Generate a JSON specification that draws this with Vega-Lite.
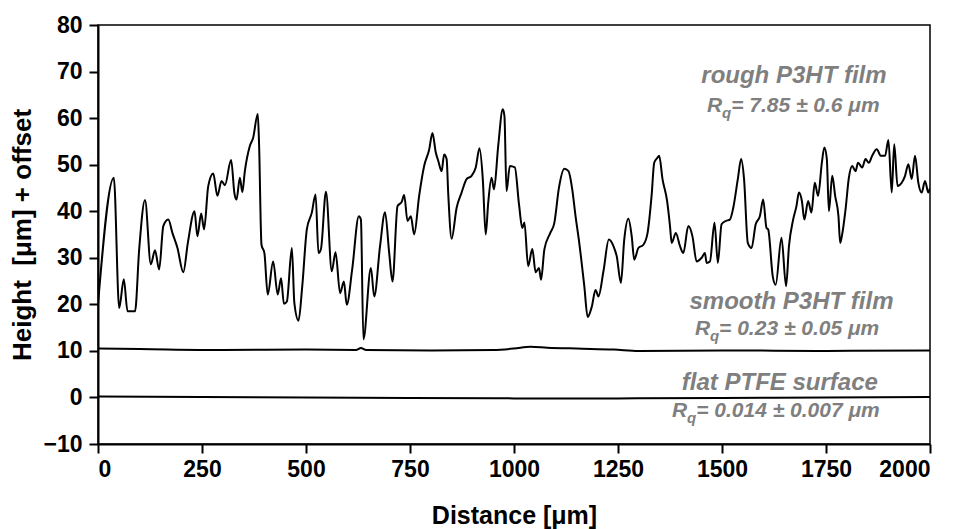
{
  "$schema": "https://vega.github.io/schema/vega-lite/v6.json",
  "width": 832,
  "height": 419,
  "autosize": {"type": "none"},
  "padding": {"left": 98, "top": 25, "right": 33, "bottom": 85},
  "background": "white",
  "config": {
    "view": {"stroke": "black", "strokeWidth": 1.5},
    "font": "Liberation Sans",
    "axis": {
      "grid": false,
      "domainColor": "black",
      "domainWidth": 2,
      "tickColor": "black",
      "tickWidth": 2,
      "tickSize": 9,
      "labelFont": "Liberation Sans",
      "labelFontWeight": "bold",
      "labelFontSize": 23,
      "labelColor": "black",
      "titleFont": "Liberation Sans",
      "titleFontWeight": "bold",
      "titleFontSize": 25,
      "titleColor": "black"
    }
  },
  "datasets": {
    "profiles": [
      {"series": "rough", "d": 0, "h": 20},
      {"series": "rough", "d": 38, "h": 47.2},
      {"series": "rough", "d": 51, "h": 19.2},
      {"series": "rough", "d": 62, "h": 25.4},
      {"series": "rough", "d": 71, "h": 18.5},
      {"series": "rough", "d": 89, "h": 18.5},
      {"series": "rough", "d": 99, "h": 31.8},
      {"series": "rough", "d": 113, "h": 42.4},
      {"series": "rough", "d": 127, "h": 28.6},
      {"series": "rough", "d": 137, "h": 31.6},
      {"series": "rough", "d": 147, "h": 27.5},
      {"series": "rough", "d": 157, "h": 36.8},
      {"series": "rough", "d": 169, "h": 38.2},
      {"series": "rough", "d": 179, "h": 35.3},
      {"series": "rough", "d": 191, "h": 32.1},
      {"series": "rough", "d": 205, "h": 26.9},
      {"series": "rough", "d": 216, "h": 33.2},
      {"series": "rough", "d": 232, "h": 40.0},
      {"series": "rough", "d": 239, "h": 34.6},
      {"series": "rough", "d": 248, "h": 39.5},
      {"series": "rough", "d": 255, "h": 36.1},
      {"series": "rough", "d": 265, "h": 45.4},
      {"series": "rough", "d": 277, "h": 48.1},
      {"series": "rough", "d": 287, "h": 43.3},
      {"series": "rough", "d": 297, "h": 46.5},
      {"series": "rough", "d": 305, "h": 45.6},
      {"series": "rough", "d": 320, "h": 51.0},
      {"series": "rough", "d": 328, "h": 43.8},
      {"series": "rough", "d": 333, "h": 42.5},
      {"series": "rough", "d": 341, "h": 47.2},
      {"series": "rough", "d": 347, "h": 44.1},
      {"series": "rough", "d": 353, "h": 48.6},
      {"series": "rough", "d": 365, "h": 54.0},
      {"series": "rough", "d": 373, "h": 55.8},
      {"series": "rough", "d": 384, "h": 60.9},
      {"series": "rough", "d": 387, "h": 55.0},
      {"series": "rough", "d": 393, "h": 32.8},
      {"series": "rough", "d": 400, "h": 31.0},
      {"series": "rough", "d": 408, "h": 22.1},
      {"series": "rough", "d": 421, "h": 29.2},
      {"series": "rough", "d": 432, "h": 22.1},
      {"series": "rough", "d": 440, "h": 25.6},
      {"series": "rough", "d": 447, "h": 20.1},
      {"series": "rough", "d": 454, "h": 20.6},
      {"series": "rough", "d": 466, "h": 32.1},
      {"series": "rough", "d": 472, "h": 20.3},
      {"series": "rough", "d": 482, "h": 16.5},
      {"series": "rough", "d": 491, "h": 23.9},
      {"series": "rough", "d": 502, "h": 36.1},
      {"series": "rough", "d": 514, "h": 39.7},
      {"series": "rough", "d": 523, "h": 43.6},
      {"series": "rough", "d": 530, "h": 31.0},
      {"series": "rough", "d": 536, "h": 31.9},
      {"series": "rough", "d": 548, "h": 44.2},
      {"series": "rough", "d": 562, "h": 27.1},
      {"series": "rough", "d": 571, "h": 31.2},
      {"series": "rough", "d": 582, "h": 22.4},
      {"series": "rough", "d": 591, "h": 24.9},
      {"series": "rough", "d": 598, "h": 19.9},
      {"series": "rough", "d": 611, "h": 27.5},
      {"series": "rough", "d": 627, "h": 38.9},
      {"series": "rough", "d": 632, "h": 38.2},
      {"series": "rough", "d": 638, "h": 12.5},
      {"series": "rough", "d": 656, "h": 27.8},
      {"series": "rough", "d": 664, "h": 21.7},
      {"series": "rough", "d": 678, "h": 32.5},
      {"series": "rough", "d": 690, "h": 39.8},
      {"series": "rough", "d": 700, "h": 31.0},
      {"series": "rough", "d": 708, "h": 24.9},
      {"series": "rough", "d": 720, "h": 41.1},
      {"series": "rough", "d": 730, "h": 42.0},
      {"series": "rough", "d": 736, "h": 43.5},
      {"series": "rough", "d": 744, "h": 37.9},
      {"series": "rough", "d": 752, "h": 38.9},
      {"series": "rough", "d": 760, "h": 35.0},
      {"series": "rough", "d": 772, "h": 43.3},
      {"series": "rough", "d": 784, "h": 49.7},
      {"series": "rough", "d": 796, "h": 53.2},
      {"series": "rough", "d": 804, "h": 56.8},
      {"series": "rough", "d": 812, "h": 52.6},
      {"series": "rough", "d": 818, "h": 50.8},
      {"series": "rough", "d": 826, "h": 48.6},
      {"series": "rough", "d": 832, "h": 52.2},
      {"series": "rough", "d": 838, "h": 51.2},
      {"series": "rough", "d": 842, "h": 43.6},
      {"series": "rough", "d": 850, "h": 34.1},
      {"series": "rough", "d": 862, "h": 40.7},
      {"series": "rough", "d": 874, "h": 44.0},
      {"series": "rough", "d": 886, "h": 46.9},
      {"series": "rough", "d": 898, "h": 47.6},
      {"series": "rough", "d": 908, "h": 49.4},
      {"series": "rough", "d": 917, "h": 53.5},
      {"series": "rough", "d": 925, "h": 46.9},
      {"series": "rough", "d": 932, "h": 35.0},
      {"series": "rough", "d": 938, "h": 41.8},
      {"series": "rough", "d": 946, "h": 47.2},
      {"series": "rough", "d": 952, "h": 44.7},
      {"series": "rough", "d": 962, "h": 54.0},
      {"series": "rough", "d": 973, "h": 61.9},
      {"series": "rough", "d": 977, "h": 60.5},
      {"series": "rough", "d": 982, "h": 44.3},
      {"series": "rough", "d": 990, "h": 49.7},
      {"series": "rough", "d": 1002, "h": 49.4},
      {"series": "rough", "d": 1012, "h": 41.5},
      {"series": "rough", "d": 1020, "h": 36.4},
      {"series": "rough", "d": 1025, "h": 37.6},
      {"series": "rough", "d": 1034, "h": 28.2},
      {"series": "rough", "d": 1044, "h": 31.9},
      {"series": "rough", "d": 1052, "h": 26.9},
      {"series": "rough", "d": 1060, "h": 27.8},
      {"series": "rough", "d": 1065, "h": 25.3},
      {"series": "rough", "d": 1073, "h": 31.8},
      {"series": "rough", "d": 1087, "h": 35.3},
      {"series": "rough", "d": 1097, "h": 37.5},
      {"series": "rough", "d": 1108, "h": 45.0},
      {"series": "rough", "d": 1121, "h": 49.1},
      {"series": "rough", "d": 1131, "h": 48.6},
      {"series": "rough", "d": 1140, "h": 44.7},
      {"series": "rough", "d": 1148, "h": 38.9},
      {"series": "rough", "d": 1156, "h": 33.8},
      {"series": "rough", "d": 1169, "h": 23.9},
      {"series": "rough", "d": 1177, "h": 17.3},
      {"series": "rough", "d": 1187, "h": 19.5},
      {"series": "rough", "d": 1196, "h": 23.1},
      {"series": "rough", "d": 1203, "h": 21.7},
      {"series": "rough", "d": 1215, "h": 27.1},
      {"series": "rough", "d": 1228, "h": 33.9},
      {"series": "rough", "d": 1239, "h": 32.5},
      {"series": "rough", "d": 1247, "h": 30.3},
      {"series": "rough", "d": 1257, "h": 24.6},
      {"series": "rough", "d": 1265, "h": 33.9},
      {"series": "rough", "d": 1275, "h": 38.4},
      {"series": "rough", "d": 1283, "h": 34.6},
      {"series": "rough", "d": 1289, "h": 29.6},
      {"series": "rough", "d": 1299, "h": 32.1},
      {"series": "rough", "d": 1311, "h": 32.8},
      {"series": "rough", "d": 1321, "h": 35.3},
      {"series": "rough", "d": 1331, "h": 43.6},
      {"series": "rough", "d": 1337, "h": 50.4},
      {"series": "rough", "d": 1345, "h": 51.5},
      {"series": "rough", "d": 1349, "h": 51.9},
      {"series": "rough", "d": 1357, "h": 46.9},
      {"series": "rough", "d": 1368, "h": 42.2},
      {"series": "rough", "d": 1375, "h": 36.8},
      {"series": "rough", "d": 1379, "h": 33.2},
      {"series": "rough", "d": 1389, "h": 35.3},
      {"series": "rough", "d": 1399, "h": 32.5},
      {"series": "rough", "d": 1407, "h": 31.0},
      {"series": "rough", "d": 1419, "h": 36.8},
      {"series": "rough", "d": 1429, "h": 34.6},
      {"series": "rough", "d": 1439, "h": 29.2},
      {"series": "rough", "d": 1451, "h": 30.0},
      {"series": "rough", "d": 1459, "h": 31.0},
      {"series": "rough", "d": 1463, "h": 28.9},
      {"series": "rough", "d": 1471, "h": 29.2},
      {"series": "rough", "d": 1482, "h": 37.5},
      {"series": "rough", "d": 1490, "h": 28.9},
      {"series": "rough", "d": 1499, "h": 37.2},
      {"series": "rough", "d": 1509, "h": 37.9},
      {"series": "rough", "d": 1519, "h": 38.2},
      {"series": "rough", "d": 1527, "h": 40.7},
      {"series": "rough", "d": 1538, "h": 46.9},
      {"series": "rough", "d": 1546, "h": 51.2},
      {"series": "rough", "d": 1553, "h": 46.9},
      {"series": "rough", "d": 1562, "h": 33.2},
      {"series": "rough", "d": 1571, "h": 32.1},
      {"series": "rough", "d": 1581, "h": 37.2},
      {"series": "rough", "d": 1591, "h": 38.9},
      {"series": "rough", "d": 1599, "h": 42.5},
      {"series": "rough", "d": 1607, "h": 36.4},
      {"series": "rough", "d": 1611, "h": 36.1},
      {"series": "rough", "d": 1622, "h": 26.0},
      {"series": "rough", "d": 1629, "h": 24.2},
      {"series": "rough", "d": 1643, "h": 34.3},
      {"series": "rough", "d": 1654, "h": 23.9},
      {"series": "rough", "d": 1661, "h": 32.5},
      {"series": "rough", "d": 1671, "h": 38.2},
      {"series": "rough", "d": 1679, "h": 41.1},
      {"series": "rough", "d": 1685, "h": 44.0},
      {"series": "rough", "d": 1692, "h": 42.2},
      {"series": "rough", "d": 1698, "h": 38.2},
      {"series": "rough", "d": 1707, "h": 42.2},
      {"series": "rough", "d": 1715, "h": 39.7},
      {"series": "rough", "d": 1723, "h": 46.1},
      {"series": "rough", "d": 1731, "h": 43.3},
      {"series": "rough", "d": 1740, "h": 50.4},
      {"series": "rough", "d": 1746, "h": 53.7},
      {"series": "rough", "d": 1752, "h": 51.2},
      {"series": "rough", "d": 1757, "h": 40.0},
      {"series": "rough", "d": 1765, "h": 47.6},
      {"series": "rough", "d": 1772, "h": 43.3},
      {"series": "rough", "d": 1780, "h": 38.9},
      {"series": "rough", "d": 1784, "h": 33.2},
      {"series": "rough", "d": 1788, "h": 34.6},
      {"series": "rough", "d": 1797, "h": 40.4},
      {"series": "rough", "d": 1805, "h": 47.2},
      {"series": "rough", "d": 1813, "h": 49.7},
      {"series": "rough", "d": 1821, "h": 48.6},
      {"series": "rough", "d": 1827, "h": 50.4},
      {"series": "rough", "d": 1837, "h": 49.4},
      {"series": "rough", "d": 1845, "h": 51.2},
      {"series": "rough", "d": 1853, "h": 50.4},
      {"series": "rough", "d": 1861, "h": 51.9},
      {"series": "rough", "d": 1872, "h": 53.3},
      {"series": "rough", "d": 1882, "h": 51.9},
      {"series": "rough", "d": 1892, "h": 51.9},
      {"series": "rough", "d": 1900, "h": 55.3},
      {"series": "rough", "d": 1908, "h": 44.0},
      {"series": "rough", "d": 1914, "h": 54.4},
      {"series": "rough", "d": 1922, "h": 45.4},
      {"series": "rough", "d": 1932, "h": 46.1},
      {"series": "rough", "d": 1940, "h": 47.6},
      {"series": "rough", "d": 1948, "h": 50.1},
      {"series": "rough", "d": 1956, "h": 46.9},
      {"series": "rough", "d": 1964, "h": 51.9},
      {"series": "rough", "d": 1972, "h": 46.1},
      {"series": "rough", "d": 1980, "h": 44.0},
      {"series": "rough", "d": 1988, "h": 46.5},
      {"series": "rough", "d": 1996, "h": 44.0},
      {"series": "rough", "d": 2000, "h": 45.0},
      {"series": "smooth", "d": 0, "h": 10.5},
      {"series": "smooth", "d": 100, "h": 10.4},
      {"series": "smooth", "d": 300, "h": 10.2},
      {"series": "smooth", "d": 500, "h": 10.3},
      {"series": "smooth", "d": 620, "h": 10.2},
      {"series": "smooth", "d": 632, "h": 10.6},
      {"series": "smooth", "d": 645, "h": 10.2},
      {"series": "smooth", "d": 800, "h": 10.1},
      {"series": "smooth", "d": 950, "h": 10.2},
      {"series": "smooth", "d": 1000, "h": 10.5},
      {"series": "smooth", "d": 1040, "h": 10.9},
      {"series": "smooth", "d": 1080, "h": 10.7},
      {"series": "smooth", "d": 1150, "h": 10.5},
      {"series": "smooth", "d": 1240, "h": 10.3},
      {"series": "smooth", "d": 1300, "h": 10.0},
      {"series": "smooth", "d": 1500, "h": 10.1},
      {"series": "smooth", "d": 1750, "h": 10.0},
      {"series": "smooth", "d": 2000, "h": 10.1},
      {"series": "flat", "d": 0, "h": 0.2},
      {"series": "flat", "d": 250, "h": 0.1},
      {"series": "flat", "d": 500, "h": 0.0},
      {"series": "flat", "d": 750, "h": -0.1},
      {"series": "flat", "d": 1000, "h": -0.2},
      {"series": "flat", "d": 1250, "h": -0.2},
      {"series": "flat", "d": 1500, "h": -0.1},
      {"series": "flat", "d": 1750, "h": 0.0},
      {"series": "flat", "d": 2000, "h": 0.1}
    ],
    "one": [{}]
  },
  "layer": [
    {
      "data": {"name": "profiles"},
      "mark": {"type": "line", "color": "black", "strokeWidth": 2, "interpolate": "monotone", "clip": true},
      "encoding": {
        "x": {
          "field": "d", "type": "quantitative",
          "scale": {"domain": [0, 2000], "nice": false, "zero": false},
          "axis": {
            "values": [0, 250, 500, 750, 1000, 1250, 1500, 1750, 2000],
            "format": "d",
            "labelPadding": 5,
            "title": "Distance [μm]",
            "titleX": 416, "titleY": 71, "titleBaseline": "middle", "titleAnchor": "middle"
          }
        },
        "y": {
          "field": "h", "type": "quantitative",
          "scale": {"domain": [-10, 80], "nice": false, "zero": false},
          "axis": {
            "values": [-10, 0, 10, 20, 30, 40, 50, 60, 70, 80],
            "format": "d",
            "labelPadding": 7,
            "title": "Height\u00a0\u00a0[μm] + offset",
            "titleFontSize": 26,
            "titleX": -76, "titleY": 209.5, "titleBaseline": "middle", "titleAngle": 270, "titleAnchor": "middle"
          }
        },
        "detail": {"field": "series"}
      }
    },
    {
      "data": {"name": "one"},
      "mark": {"type": "text", "text": "rough P3HT film", "font": "Liberation Sans", "fontWeight": "bold", "fontStyle": "italic", "fontSize": 24, "color": "#7f7f7f", "align": "center", "baseline": "middle"},
      "encoding": {"x": {"datum": 1673, "type": "quantitative"}, "y": {"datum": 69.0, "type": "quantitative"}}
    },
    {
      "data": {"name": "one"},
      "mark": {"type": "text", "text": "R", "font": "Liberation Sans", "fontWeight": "bold", "fontStyle": "italic", "fontSize": 21, "color": "#7f7f7f", "align": "left", "baseline": "middle"},
      "encoding": {"x": {"datum": 1464, "type": "quantitative"}, "y": {"datum": 62.7, "type": "quantitative"}}
    },
    {
      "data": {"name": "one"},
      "mark": {"type": "text", "text": "q", "font": "Liberation Sans", "fontWeight": "bold", "fontStyle": "italic", "fontSize": 15, "color": "#7f7f7f", "align": "left", "baseline": "middle"},
      "encoding": {"x": {"datum": 1500, "type": "quantitative"}, "y": {"datum": 61.2, "type": "quantitative"}}
    },
    {
      "data": {"name": "one"},
      "mark": {"type": "text", "text": "= 7.85 ± 0.6 μm", "font": "Liberation Sans", "fontWeight": "bold", "fontStyle": "italic", "fontSize": 21, "color": "#7f7f7f", "align": "left", "baseline": "middle"},
      "encoding": {"x": {"datum": 1522, "type": "quantitative"}, "y": {"datum": 62.7, "type": "quantitative"}}
    },
    {
      "data": {"name": "one"},
      "mark": {"type": "text", "text": "smooth P3HT film", "font": "Liberation Sans", "fontWeight": "bold", "fontStyle": "italic", "fontSize": 24, "color": "#7f7f7f", "align": "center", "baseline": "middle"},
      "encoding": {"x": {"datum": 1667, "type": "quantitative"}, "y": {"datum": 20.6, "type": "quantitative"}}
    },
    {
      "data": {"name": "one"},
      "mark": {"type": "text", "text": "R", "font": "Liberation Sans", "fontWeight": "bold", "fontStyle": "italic", "fontSize": 21, "color": "#7f7f7f", "align": "left", "baseline": "middle"},
      "encoding": {"x": {"datum": 1435, "type": "quantitative"}, "y": {"datum": 14.7, "type": "quantitative"}}
    },
    {
      "data": {"name": "one"},
      "mark": {"type": "text", "text": "q", "font": "Liberation Sans", "fontWeight": "bold", "fontStyle": "italic", "fontSize": 15, "color": "#7f7f7f", "align": "left", "baseline": "middle"},
      "encoding": {"x": {"datum": 1471, "type": "quantitative"}, "y": {"datum": 13.2, "type": "quantitative"}}
    },
    {
      "data": {"name": "one"},
      "mark": {"type": "text", "text": "= 0.23 ± 0.05 μm", "font": "Liberation Sans", "fontWeight": "bold", "fontStyle": "italic", "fontSize": 21, "color": "#7f7f7f", "align": "left", "baseline": "middle"},
      "encoding": {"x": {"datum": 1493, "type": "quantitative"}, "y": {"datum": 14.7, "type": "quantitative"}}
    },
    {
      "data": {"name": "one"},
      "mark": {"type": "text", "text": "flat PTFE surface", "font": "Liberation Sans", "fontWeight": "bold", "fontStyle": "italic", "fontSize": 24, "color": "#7f7f7f", "align": "center", "baseline": "middle"},
      "encoding": {"x": {"datum": 1639, "type": "quantitative"}, "y": {"datum": 3.1, "type": "quantitative"}}
    },
    {
      "data": {"name": "one"},
      "mark": {"type": "text", "text": "R", "font": "Liberation Sans", "fontWeight": "bold", "fontStyle": "italic", "fontSize": 21, "color": "#7f7f7f", "align": "left", "baseline": "middle"},
      "encoding": {"x": {"datum": 1380, "type": "quantitative"}, "y": {"datum": -2.9, "type": "quantitative"}}
    },
    {
      "data": {"name": "one"},
      "mark": {"type": "text", "text": "q", "font": "Liberation Sans", "fontWeight": "bold", "fontStyle": "italic", "fontSize": 15, "color": "#7f7f7f", "align": "left", "baseline": "middle"},
      "encoding": {"x": {"datum": 1416, "type": "quantitative"}, "y": {"datum": -4.4, "type": "quantitative"}}
    },
    {
      "data": {"name": "one"},
      "mark": {"type": "text", "text": "= 0.014 ± 0.007 μm", "font": "Liberation Sans", "fontWeight": "bold", "fontStyle": "italic", "fontSize": 21, "color": "#7f7f7f", "align": "left", "baseline": "middle"},
      "encoding": {"x": {"datum": 1438, "type": "quantitative"}, "y": {"datum": -2.9, "type": "quantitative"}}
    }
  ]
}
